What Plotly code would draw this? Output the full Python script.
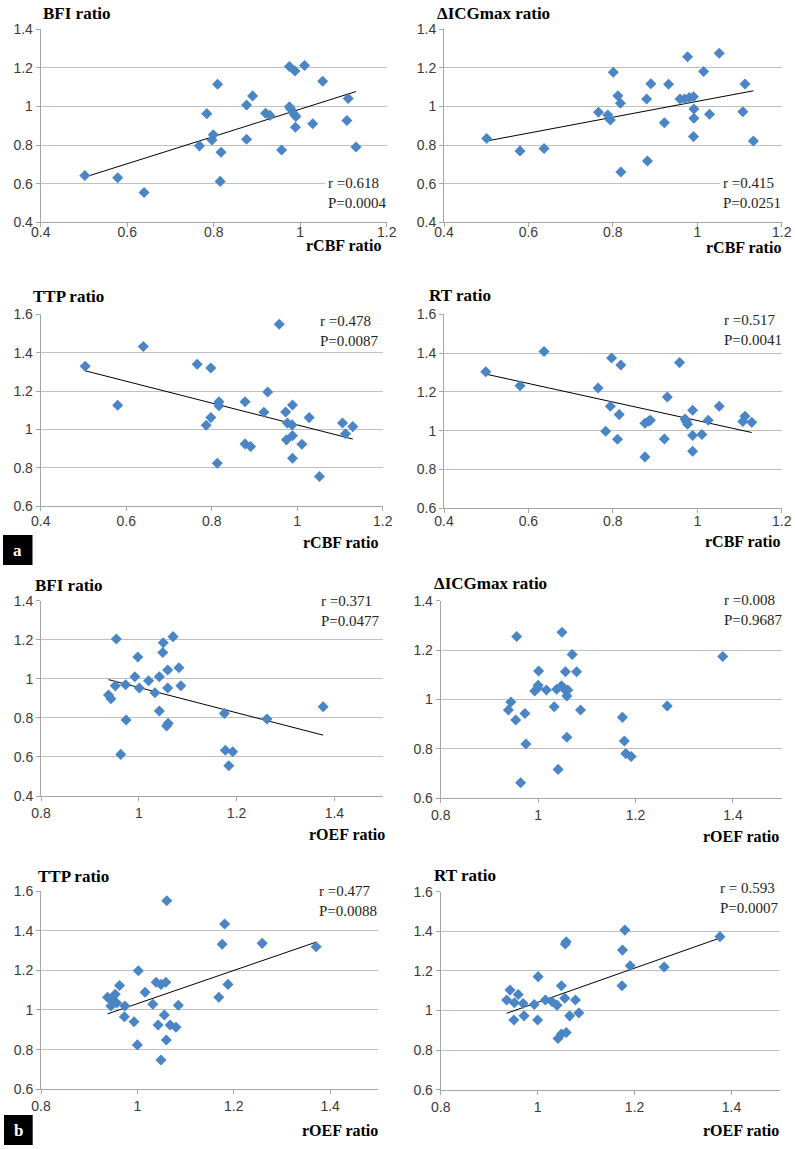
import numpy as np
import plotly.graph_objects as go

W, H = 795, 1149

# ---------------- data ----------------
rcbf_bfi = [0.502,0.578,0.639,0.767,0.784,0.799,0.796,0.809,0.817,0.815,0.876,0.876,0.890,0.920,0.930,0.957,0.975,0.988,1.010,1.052,0.975,0.978,0.986,0.990,0.989,1.029,1.108,1.111,1.129]
bfi_rcbf = [0.642,0.631,0.554,0.796,0.963,0.854,0.827,1.115,0.763,0.612,1.008,0.830,1.055,0.965,0.954,0.775,1.207,1.184,1.212,1.131,0.999,0.987,0.960,0.948,0.892,0.911,0.927,1.041,0.790]

rcbf_icg = [0.501,0.580,0.637,0.766,0.788,0.794,0.801,0.812,0.818,0.819,0.880,0.882,0.890,0.922,0.932,0.959,0.970,0.977,0.981,0.991,0.992,0.992,0.991,1.015,1.029,1.052,1.108,1.113,1.133]
icg_rcbf = [0.834,0.770,0.782,0.970,0.956,0.930,1.177,1.056,1.017,0.661,1.039,0.718,1.118,0.916,1.115,1.039,1.039,1.258,1.046,1.051,0.987,0.939,0.844,1.181,0.960,1.276,0.973,1.117,0.821]

rcbf_ttp = [0.504,0.580,0.640,0.766,0.798,0.787,0.798,0.817,0.817,0.813,0.878,0.878,0.891,0.922,0.931,0.958,0.973,0.975,0.977,0.989,0.988,0.989,0.989,1.011,1.028,1.052,1.106,1.113,1.130]
ttp_rcbf = [1.329,1.126,1.432,1.340,1.320,1.022,1.062,1.145,1.124,0.824,1.145,0.925,0.911,1.090,1.195,1.548,1.091,0.946,1.034,1.128,1.024,0.968,0.850,0.923,1.062,0.755,1.034,0.978,1.015]

rcbf_rt = [0.499,0.580,0.637,0.765,0.797,0.819,0.794,0.815,0.783,0.811,0.876,0.889,0.876,0.922,0.929,0.958,0.971,0.977,0.989,0.989,0.989,1.011,1.026,1.052,1.108,1.113,1.129,0.974,0.885]
rt_rcbf = [1.304,1.232,1.408,1.220,1.375,1.339,1.126,1.083,0.997,0.956,1.038,1.054,0.865,0.957,1.174,1.351,1.060,1.033,1.105,0.975,0.894,0.980,1.054,1.126,1.048,1.074,1.043,1.047,1.050]

roef_bfi = [0.954,0.998,0.992,0.973,0.952,0.938,0.943,0.974,0.963,1.001,1.020,1.033,1.042,1.042,1.050,1.049,1.070,1.059,1.059,1.060,1.057,1.082,1.086,1.175,1.177,1.192,1.184,1.262,1.377]
bfi_roef = [1.204,1.112,1.011,0.970,0.964,0.917,0.898,0.789,0.613,0.953,0.990,0.929,1.011,0.835,1.185,1.135,1.216,1.045,0.953,0.772,0.758,1.057,0.965,0.823,0.634,0.627,0.555,0.794,0.857]

roef_icg = [0.956,1.049,1.070,1.001,1.056,1.079,1.000,0.993,0.999,1.017,1.038,1.048,1.053,1.061,1.059,0.944,0.939,0.954,0.973,1.033,1.087,0.975,1.059,1.041,0.964,1.173,1.177,1.180,1.191,1.265,1.379]
icg_roef = [1.255,1.272,1.182,1.115,1.112,1.112,1.057,1.034,1.046,1.038,1.041,1.055,1.043,1.038,1.014,0.989,0.957,0.916,0.943,0.970,0.957,0.819,0.846,0.716,0.662,0.927,0.831,0.780,0.768,0.973,1.174]

roef_ttp = [1.061,1.181,1.176,1.259,1.371,1.002,0.963,1.039,1.049,1.059,1.016,1.188,1.169,0.938,0.945,0.954,0.957,0.945,0.974,0.973,0.993,1.032,1.056,1.043,1.068,1.080,1.085,1.060,1.000,1.049]
ttp_roef = [1.551,1.434,1.331,1.336,1.319,1.198,1.123,1.140,1.129,1.140,1.089,1.129,1.064,1.064,1.052,1.079,1.035,1.020,1.020,0.966,0.941,1.029,0.975,0.924,0.924,0.913,1.024,0.849,0.824,0.748]

roef_rt = [1.180,1.376,1.059,1.057,1.175,1.191,1.261,1.001,1.049,1.174,0.943,0.960,0.936,0.952,0.970,0.993,1.016,1.030,1.040,1.056,1.078,1.066,1.085,0.951,0.972,1.000,1.042,1.049,1.059]
rt_roef = [1.406,1.373,1.347,1.336,1.305,1.226,1.220,1.171,1.125,1.125,1.103,1.081,1.053,1.039,1.035,1.030,1.053,1.044,1.027,1.062,1.053,0.973,0.988,0.952,0.973,0.952,0.859,0.881,0.889]

y_titles = ["BFI ratio", "\u0394ICGmax ratio", "TTP ratio", "RT ratio",
            "BFI ratio", "\u0394ICGmax ratio", "TTP ratio", "RT ratio"]
x_titles = ["rCBF ratio"] * 4 + ["rOEF ratio"] * 4
stats = [("r =0.618", "P=0.0004"), ("r =0.415", "P=0.0251"),
         ("r =0.478", "P=0.0087"), ("r =0.517", "P=0.0041"),
         ("r =0.371", "P=0.0477"), ("r =0.008", "P=0.9687"),
         ("r =0.477", "P=0.0088"), ("r = 0.593", "P=0.0007")]
has_trend = [True, True, True, True, True, False, True, True]
xs = [rcbf_bfi, rcbf_icg, rcbf_ttp, rcbf_rt, roef_bfi, roef_icg, roef_ttp, roef_rt]
ys = [bfi_rcbf, icg_rcbf, ttp_rcbf, rt_rcbf, bfi_roef, icg_roef, ttp_roef, rt_roef]
x_ranges = [[0.4, 1.2]] * 4 + [[0.8, 1.5]] * 4
y_ranges = [[0.4, 1.4], [0.4, 1.4], [0.6, 1.6], [0.6, 1.6],
            [0.4, 1.4], [0.6, 1.4], [0.6, 1.6], [0.6, 1.6]]
panel_letters = ["a", "b"]

# ---------------- layout geometry (pixels) ----------------
boxes = [(40.7, 386.7, 29.3, 222.3), (444, 781.7, 29.3, 222.3),
         (40.7, 382.7, 314.3, 506.3), (444, 781.7, 314.3, 508.3),
         (41, 383.3, 600.7, 796), (440.7, 781.7, 600.7, 798),
         (41, 378.3, 891, 1089.3), (440.7, 780, 891.7, 1089.7)]
xtick_standoff = [-7, -7, -2, -4, 0, 0, 0, 0]
ytitle_pos = [(40.7, 13), (435, 13), (30.7, 296), (427, 295),
              (32.7, 585), (432, 583), (36, 876), (432, 875)]
xtitle_pos = [(382.7, 245), (782.7, 247), (380, 542.7), (782.3, 541.7),
              (386.7, 834), (781, 836.7), (380, 1130.7), (781, 1130.7)]
stat_pos = [(325, 193), (720, 192.5), (317, 331), (721, 329.5),
            (318, 610.5), (721, 609.5), (316, 901), (717, 898)]
letter_boxes = [(3, 32.5, 535, 565), (4, 32.7, 1115, 1145)]


def px(x):
    return x / W


def py(y):
    return 1 - y / H


MARK = "#4a85c5"
GRID = "#c0c0c0"
AXIS = "#a6a6a6"
SERIF = "Liberation Serif, Times New Roman, serif"
SANS = "Liberation Sans, Arial, sans-serif"
TICKFONT = dict(family=SANS, size=14, color="#3a3a3a")

fig = go.Figure()
annotations = []
shapes = []
layout = {}

for i in range(8):
    n = i + 1
    xa = "x" if n == 1 else f"x{n}"
    ya = "y" if n == 1 else f"y{n}"
    x0, x1, y0, y1 = boxes[i]
    layout["xaxis" if n == 1 else f"xaxis{n}"] = dict(
        domain=[px(x0), px(x1)], anchor=ya, range=x_ranges[i], dtick=0.2,
        tick0=0, showgrid=False, zeroline=False, showline=True,
        linecolor=AXIS, linewidth=1, ticks="outside", ticklen=4,
        tickcolor=AXIS, tickfont=TICKFONT, automargin=False,
        ticklabelstandoff=xtick_standoff[i], fixedrange=True)
    layout["yaxis" if n == 1 else f"yaxis{n}"] = dict(
        domain=[py(y1), py(y0)], anchor=xa, range=y_ranges[i], dtick=0.2,
        tick0=0, showgrid=True, gridcolor=GRID, gridwidth=1, zeroline=False,
        showline=True, linecolor=AXIS, linewidth=1, ticks="outside",
        ticklen=4, tickcolor=AXIS, tickfont=TICKFONT, automargin=False,
        fixedrange=True)

    if has_trend[i]:
        xv = np.array(xs[i])
        yv = np.array(ys[i])
        slope, icpt = np.polyfit(xv, yv, 1)
        lx = np.array([xv.min(), xv.max()])
        fig.add_trace(go.Scatter(x=lx, y=slope * lx + icpt, mode="lines",
                                 line=dict(color="black", width=1),
                                 xaxis=xa, yaxis=ya, showlegend=False,
                                 hoverinfo="skip"))
    fig.add_trace(go.Scatter(x=xs[i], y=ys[i], mode="markers",
                             marker=dict(symbol="diamond", size=8.5,
                                         color=MARK, line=dict(width=0)),
                             xaxis=xa, yaxis=ya, showlegend=False))

    tx, ty = ytitle_pos[i]
    annotations.append(dict(x=px(tx), y=py(ty), xref="paper", yref="paper",
                            xanchor="left", yanchor="middle", showarrow=False,
                            text=f"<b>{y_titles[i]}</b>",
                            font=dict(family=SERIF, size=17, color="black")))
    tx, ty = xtitle_pos[i]
    annotations.append(dict(x=px(tx), y=py(ty), xref="paper", yref="paper",
                            xanchor="right", yanchor="middle", showarrow=False,
                            text=f"<b>{x_titles[i]}</b>",
                            font=dict(family=SERIF, size=16, color="black")))
    tx, ty = stat_pos[i]
    annotations.append(dict(x=px(tx), y=py(ty), xref="paper", yref="paper",
                            xanchor="left", yanchor="middle", showarrow=False,
                            align="left", bgcolor="white", borderpad=2,
                            text=f"{stats[i][0]}<br>{stats[i][1]}",
                            font=dict(family=SERIF, size=15, color="#222")))

for (bx0, bx1, by0, by1), letter in zip(letter_boxes, panel_letters):
    shapes.append(dict(type="rect", xref="paper", yref="paper",
                       x0=px(bx0), x1=px(bx1), y0=py(by1), y1=py(by0),
                       fillcolor="black", line=dict(width=0)))
    annotations.append(dict(x=px((bx0 + bx1) / 2), y=py((by0 + by1) / 2),
                            xref="paper", yref="paper", showarrow=False,
                            xanchor="center", yanchor="middle",
                            text=f"<b>{letter}</b>",
                            font=dict(family=SERIF, size=17, color="white")))

fig.update_layout(width=W, height=H,
                  margin=dict(l=0, r=0, t=0, b=0, pad=0, autoexpand=False),
                  paper_bgcolor="white", plot_bgcolor="white",
                  annotations=annotations, shapes=shapes, **layout)

fig.write_html(
    "out.html",
    config={"displayModeBar": False},
    post_script="document.body.style.margin='0px';"
                "document.body.style.overflow='hidden';")
